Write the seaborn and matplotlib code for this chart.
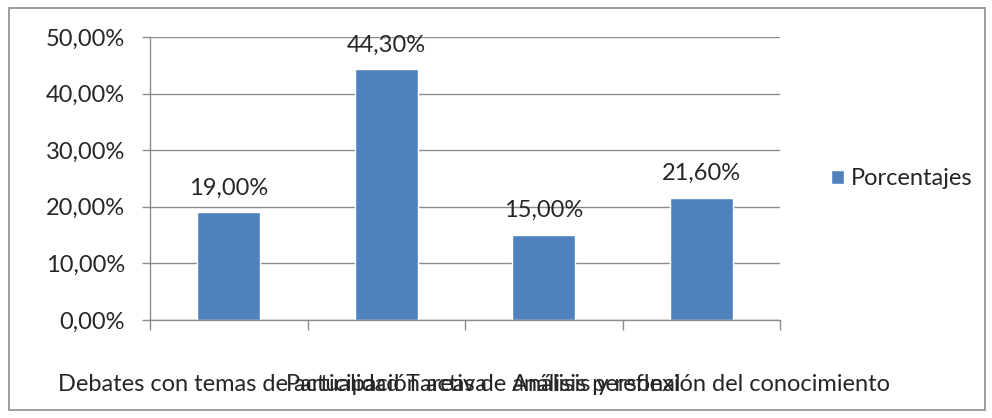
import matplotlib
matplotlib.use("Agg")
import matplotlib.pyplot as plt
import matplotlib.patches as mpatches
import numpy as np
import pandas as pd
import seaborn as sns

categorias = [
    "Debates con temas de actualidad",
    "Participación activa",
    "Tareas de análisis personal",
    "Análisis y reflexión del conocimiento",
]
porcentajes = [19.0, 44.3, 15.0, 21.6]
yticks = [0, 10, 20, 30, 40, 50]
serie = "Porcentajes"

sns.set_theme(style="white")
plt.rcParams["font.family"] = ["Lato", "DejaVu Sans"]

df = pd.DataFrame({"categoria": categorias, "valor": porcentajes})

fig = plt.figure(figsize=(9.92, 4.18), dpi=100)
ax = fig.add_axes([150 / 992, 1 - 320 / 418, 630 / 992, 283 / 418])

sns.barplot(data=df, x="categoria", y="valor", color="#4F81BD", width=0.4,
            saturation=1, ax=ax, label=serie)

fs = 17
ax.set_ylim(0, 50)
ax.set_xlim(-0.5, len(categorias) - 0.5)
ax.set_yticks(yticks)
ax.set_yticklabels([f"{v:.2f}".replace(".", ",") + "%" for v in yticks], fontsize=fs)
ax.yaxis.grid(True, color="#8c8c8c", linewidth=1)
ax.set_axisbelow(True)

ax.set_xticks(range(len(categorias)))
ax.set_xticklabels(categorias, fontsize=fs)
ax.tick_params(axis="x", length=0, pad=39)
ax.set_xticks(np.arange(-0.5, len(categorias)), minor=True)
ax.tick_params(axis="x", which="minor", length=7, color="#8c8c8c", width=1, bottom=True)
ax.tick_params(axis="y", length=6, color="#8c8c8c", width=1, left=True, pad=12)
ax.set_xlabel("")
ax.set_ylabel("")

for s in ["top", "right"]:
    ax.spines[s].set_visible(False)
for s in ["left", "bottom"]:
    ax.spines[s].set_color("#8c8c8c")
    ax.spines[s].set_linewidth(1)

for i, v in enumerate(porcentajes):
    ax.text(i, v + 4.3, f"{v:.2f}".replace(".", ",") + "%", ha="center",
            va="center", fontsize=fs)

ax.legend(loc="center left", bbox_to_anchor=(660 / 630, 0.5),
          frameon=False, fontsize=fs, handlelength=0.55, handleheight=0.55,
          handletextpad=0.3)

fig.patches.append(mpatches.Rectangle((9 / 992, 8 / 418), 976 / 992, 402 / 418,
                                      transform=fig.transFigure, fill=False,
                                      edgecolor="#8c8c8c", linewidth=1.2))

fig.savefig("out.png", dpi=100)
